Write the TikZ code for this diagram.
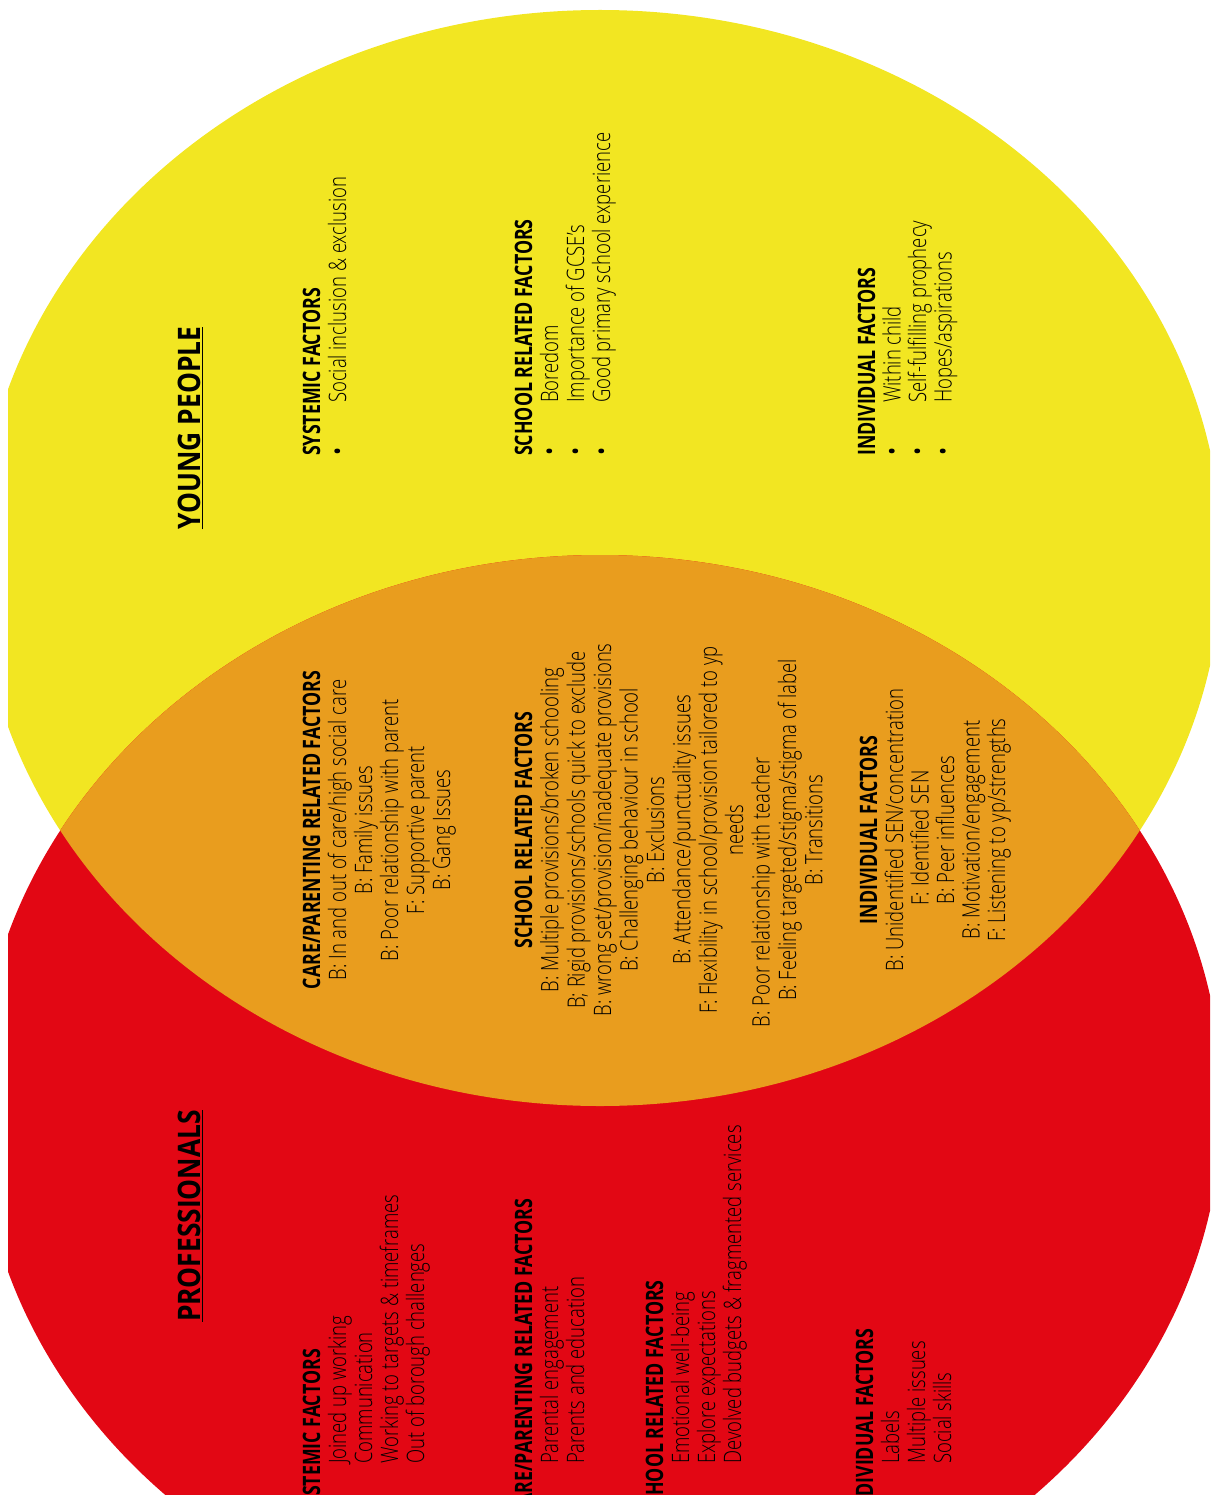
\documentclass[tikz,border=0pt]{standalone}
\usepackage{fontspec}
\setmainfont{Open Sans Light}[FakeStretch=0.77]
\newfontfamily\hdfont{Open Sans Bold}[FakeStretch=0.74]
\newfontfamily\bltfont{Open Sans}[FakeStretch=0.9]
\newfontfamily\titlefont{Open Sans Bold}[FakeStretch=0.85]
\definecolor{ylw}{HTML}{F2E622}
\definecolor{org}{HTML}{E99D1E}
\definecolor{rd}{HTML}{E20714}
\newcommand\ybullet{\makebox[53pt][l]{\bltfont •}}
\begin{document}
\begin{tikzpicture}[x=1pt,y=-1pt,
  txt/.style={rotate=90, inner sep=0pt, font=\fontsize{24}{26}\selectfont},
  lft/.style={txt, anchor=base west},
  ctr/.style={txt, anchor=base},
  hd/.style={font=\hdfont\fontsize{24}{26}\selectfont},
  ttl/.style={rotate=90, inner sep=0pt, anchor=base, font=\titlefont\fontsize{31}{36}\selectfont}]
\useasboundingbox (0,0) rectangle (1210,1495);
\clip (8,0) rectangle (1210,1495);
% circles
\fill[ylw] (600,558) ellipse [x radius=622, y radius=548];
\fill[rd] (600,1103) ellipse [x radius=622, y radius=548];
\begin{scope}
  \clip (600,558) ellipse [x radius=622, y radius=548];
  \fill[org] (600,1103) ellipse [x radius=622, y radius=548];
\end{scope}
% titles
\node[ttl] (yp) at (200,428) {\underline{YOUNG PEOPLE}};
\node[ttl] (pr) at (200,1216) {\underline{PROFESSIONALS}};
% young people blocks
\node[lft,hd] (ys-h) at (320,456) {SYSTEMIC FACTORS};
\node[lft] (ys-1) at (346,456) {\ybullet Social inclusion \& exclusion};
\node[lft,hd] (ysc-h) at (532,456) {SCHOOL RELATED FACTORS};
\foreach \t [count=\i] in {Boredom,Importance of GCSE’s,Good primary school experience}
  \node[lft] (ysc-\i) at (532+26*\i,456) {\ybullet \t};
\node[lft,hd] (yi-h) at (875,456) {INDIVIDUAL FACTORS};
\foreach \t [count=\i] in {Within child,Self-fulfilling prophecy,Hopes/aspirations}
  \node[lft] (yi-\i) at (875+25.5*\i,456) {\ybullet \t};
% overlap blocks
\node[ctr,hd] (oc-h) at (320,830) {CARE/PARENTING RELATED FACTORS};
\foreach \t [count=\i] in {B: In and out of care/high social care,B: Family issues,B: Poor relationship with parent,F: Supportive parent,B: Gang Issues}
  \node[ctr] (oc-\i) at (320+26*\i,830) {\t};
\node[ctr,hd] (os-h) at (532,830) {SCHOOL RELATED FACTORS};
\foreach \t [count=\i] in {B: Multiple provisions/broken schooling,B; Rigid provisions/schools quick to exclude,B: wrong set/provision/inadequate provisions,B: Challenging behaviour in school,B: Exclusions,B: Attendance/punctuality issues,F: Flexibility in school/provision tailored to yp,needs}
  \node[ctr] (os-\i) at (532+26.4*\i,830) {\t};
\node[ctr] (os-9) at (532+26.4*9,892) {B: Poor relationship with teacher};
\node[ctr] (os-10) at (532+26.4*10,830) {B: Feeling targeted/stigma/stigma of label};
\node[ctr] (os-11) at (532+26.4*11,830) {B: Transitions};
\node[ctr,hd] (oi-h) at (877,830) {INDIVIDUAL FACTORS};
\node[ctr] (oi-1) at (903,830) {B: Unidentified SEN/concentration};
\node[ctr] (oi-2) at (928.5,838) {F: Identified SEN};
\node[ctr] (oi-3) at (954,830) {B: Peer influences};
\node[ctr] (oi-4) at (979.5,830) {B: Motivation/engagement};
\node[ctr] (oi-5) at (1005,830) {F: Listening to yp/strengths};
% professionals blocks
\node[lft,hd] (ps-h) at (320,1517) {SYSTEMIC FACTORS};
\foreach \t [count=\i] in {Joined up working,Communication,Working to targets \& timeframes,Out of borough challenges}
  \node[lft] (ps-\i) at (320+26*\i,1517) {\ybullet \t};
\node[lft,hd] (pc-h) at (532,1517) {CARE/PARENTING RELATED FACTORS};
\foreach \t [count=\i] in {Parental engagement,Parents and education}
  \node[lft] (pc-\i) at (532+26*\i,1517) {\ybullet \t};
\node[lft,hd] (psc-h) at (663,1517) {SCHOOL RELATED FACTORS};
\foreach \t [count=\i] in {Emotional well-being,Explore expectations,Devolved budgets \& fragmented services}
  \node[lft] (psc-\i) at (663+26*\i,1517) {\ybullet \t};
\node[lft,hd] (pi-h) at (873,1517) {INDIVIDUAL FACTORS};
\foreach \t [count=\i] in {Labels,Multiple issues,Social skills}
  \node[lft] (pi-\i) at (873+26*\i,1517) {\ybullet \t};
\end{tikzpicture}
\end{document}
